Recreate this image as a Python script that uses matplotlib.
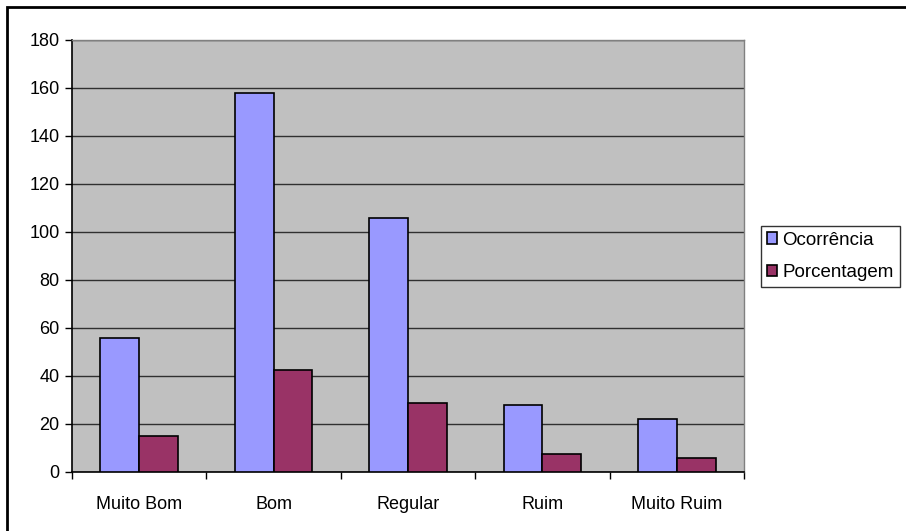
import matplotlib
matplotlib.use("Agg")
import matplotlib.pyplot as plt
import numpy as np
from matplotlib.patches import Rectangle

# ---- data ----
categorias = ["Muito Bom", "Bom", "Regular", "Ruim", "Muito Ruim"]
ocorrencia = [56, 158, 106, 28, 22]
porcentagem = [15.1, 42.7, 28.6, 7.6, 5.9]
series_nomes = ["Ocorrência", "Porcentagem"]
y_ticks = [0, 20, 40, 60, 80, 100, 120, 140, 160, 180]

plt.rcParams["font.family"] = ["Liberation Sans", "DejaVu Sans"]
plt.rcParams["font.size"] = 13

fig = plt.figure(figsize=(9.06, 5.31), dpi=100)
ax = fig.add_axes([72 / 906, 59 / 531, 672 / 906, 432 / 531])

# outer chart frame (cropped on right/bottom in the original)
fig.patches.append(Rectangle((7 / 906, -0.05), 1.2, 1.05 - 7 / 531,
                             transform=fig.transFigure, fill=False,
                             edgecolor="black", linewidth=2, zorder=0))

x = np.arange(len(categorias))
w = 0.288
ax.set_facecolor("#C0C0C0")
ax.bar(x - w / 2, ocorrencia, w, color="#9999FF", edgecolor="black",
       linewidth=1.2, label=series_nomes[0], zorder=3)
ax.bar(x + w / 2, porcentagem, w, color="#993366", edgecolor="black",
       linewidth=1.2, label=series_nomes[1], zorder=3)

ax.set_xlim(-0.5, len(categorias) - 0.5)
ax.set_ylim(0, 180)
ax.set_yticks(y_ticks)
ax.yaxis.grid(True, color="#303030", linewidth=1, zorder=1)
ax.set_axisbelow(True)

ax.set_xticks(x)
ax.set_xticklabels(categorias)
ax.tick_params(axis="x", length=0, pad=17)
ax.set_xticks(np.arange(len(categorias) + 1) - 0.5, minor=True)
ax.tick_params(axis="x", which="minor", length=5, width=1, direction="out")
ax.tick_params(axis="y", length=5, width=1, direction="out", pad=4)

for s in ["left", "bottom"]:
    ax.spines[s].set_color("black")
    ax.spines[s].set_linewidth(1.2)
for s in ["top", "right"]:
    ax.spines[s].set_color("#808080")
    ax.spines[s].set_linewidth(1)

leg = ax.legend(loc="center left", bbox_to_anchor=(761 / 906, 274.5 / 531),
                bbox_transform=fig.transFigure, frameon=True, fancybox=False,
                edgecolor="black", handlelength=0.55, handleheight=0.55,
                handletextpad=0.3, borderpad=0.3, labelspacing=0.85,
                borderaxespad=0, fontsize=13.5)
leg.get_frame().set_linewidth(1)

fig.savefig("out.png", dpi=100, facecolor="white")
